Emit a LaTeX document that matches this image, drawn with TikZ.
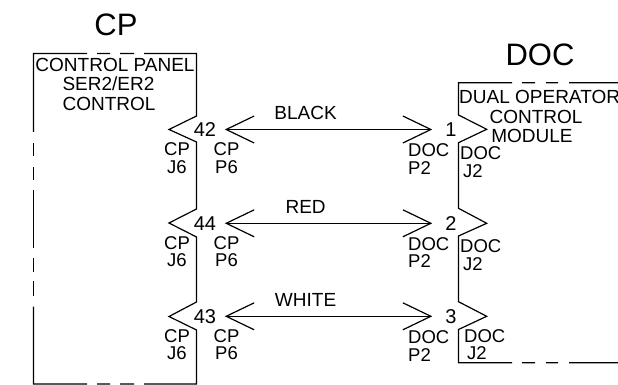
\documentclass[tikz,border=0pt]{standalone}
\usepackage{fontspec}
\setmainfont{Liberation Sans}
\usetikzlibrary{arrows.meta,positioning}
\tikzset{
  boxline/.style={line width=1.2pt,line cap=butt},
  wire/.style={line width=1.2pt,{Straight Barb[length=28pt,width=27pt]}-{Straight Barb[length=28pt,width=27pt]}},
  title/.style={font=\fontsize{31}{33}\selectfont},
  label/.style={font=\fontsize{19}{20}\selectfont},
  pinno/.style={font=\fontsize{20}{22}\selectfont},
  conn/.style={align=center,font=\fontsize{18.5}{17.5}\selectfont},
  connl/.style={conn,align=left,anchor=west}
}
\begin{document}
\begin{tikzpicture}[x=1pt,y=-1pt,every node/.style={inner sep=0pt}]
      \useasboundingbox (0,0) rectangle (618,385);
      % CP box
      \draw[boxline] (33.5,132) -- (33.5,53.5) -- (87,53.5) (97,53.5) -- (110,53.5) (120,53.5) -- (134,53.5) (144,53.5) -- (196.5,53.5)
        -- (196.5,116) -- (169,129.5) -- (196.5,142) -- (196.5,209) -- (169,223) -- (196.5,237) -- (196.5,302) -- (169,316.5) -- (196.5,330) -- (196.5,384)
        -- (144,384) (134,384) -- (120,384) (110,384) -- (97,384) (87,384) -- (33.5,384) -- (33.5,306.5);
      \draw[boxline] (33.5,143) -- (33.5,156) (33.5,167) -- (33.5,180) (33.5,190) -- (33.5,248) (33.5,258) -- (33.5,272) (33.5,281) -- (33.5,296);
      % DOC box
      \draw[boxline] (618,82.7) -- (569,82.7) (558,82.7) -- (546,82.7) (535,82.7) -- (522,82.7) (512,82.7) -- (458.5,82.7)
        -- (458.5,115) -- (486.7,129.3) -- (458.5,142.7) -- (458.5,208.3) -- (486.7,223.3) -- (458.5,236) -- (458.5,301.7) -- (486.7,316.3) -- (458.5,329.5) -- (458.5,362.7)
        -- (512,362.7) (522,362.7) -- (535,362.7) (546,362.7) -- (558,362.7) (569,362.7) -- (618,362.7);
      % Titles
      \node[title] (cptitle) at (116,25) {CP};
      \node[title] (doctitle) at (540,55) {DOC};
      \node[label] (cpline) at (115,65) {CONTROL PANEL};
      \node[label,below=5pt of cpline,xshift=-6.5pt] (serline) {SER2/ER2};
      \node[label] (ctrlline) at (109,103.5) {CONTROL};
      \node[label,anchor=west] (docline) at (459,96.5) {DUAL OPERATOR};
      \node[label] (docctrl) at (536,117) {CONTROL};
      \node[label] (docmod) at (532,136) {MODULE};
      % Pins
      \node[pinno] (pinA) at (205,129.5) {42};
      \node[pinno] (pinB) at (205,223.3) {44};
      \node[pinno] (pinC) at (205,316.3) {43};
      \node[pinno] (pinD) at (451,129.5) {1};
      \node[pinno] (pinE) at (451,223.3) {2};
      \node[pinno] (pinF) at (451,316.3) {3};
      % Connector names
      \node[conn] (jA) at (177,158) {CP\\J6};
      \node[conn] (jB) at (177,251.5) {CP\\J6};
      \node[conn] (jC) at (177,344.5) {CP\\J6};
      \node[conn] (pA) at (226.5,158) {CP\\P6};
      \node[conn] (pB) at (226.5,251.5) {CP\\P6};
      \node[conn] (pC) at (226.5,344.5) {CP\\P6};
      \node[connl] (qA) at (408,159) {DOC\\P2};
      \node[connl] (qB) at (408,252.5) {DOC\\P2};
      \node[connl] (qC) at (408,346) {DOC\\P2};
      \node[connl] (kA) at (460,162) {DOC\\\hspace{3pt}J2};
      \node[connl] (kB) at (460,255) {DOC\\\hspace{3pt}J2};
      \node[connl] (kC) at (464,344.5) {DOC\\\hspace{3pt}J2};
      % Wires
      \draw[wire,shorten <=8.5pt,shorten >=13pt] (pinA.east) -- (pinD.west) node[pos=.39,above=9pt,label] (black) {BLACK};
      \draw[wire,shorten <=8.5pt,shorten >=13pt] (pinB.east) -- (pinE.west) node[pos=.39,above=9pt,label] (red) {RED};
      \draw[wire,shorten <=8.5pt,shorten >=13pt] (pinC.east) -- (pinF.west) node[pos=.39,above=9pt,label] (white) {WHITE};
    \end{tikzpicture}
\end{document}
